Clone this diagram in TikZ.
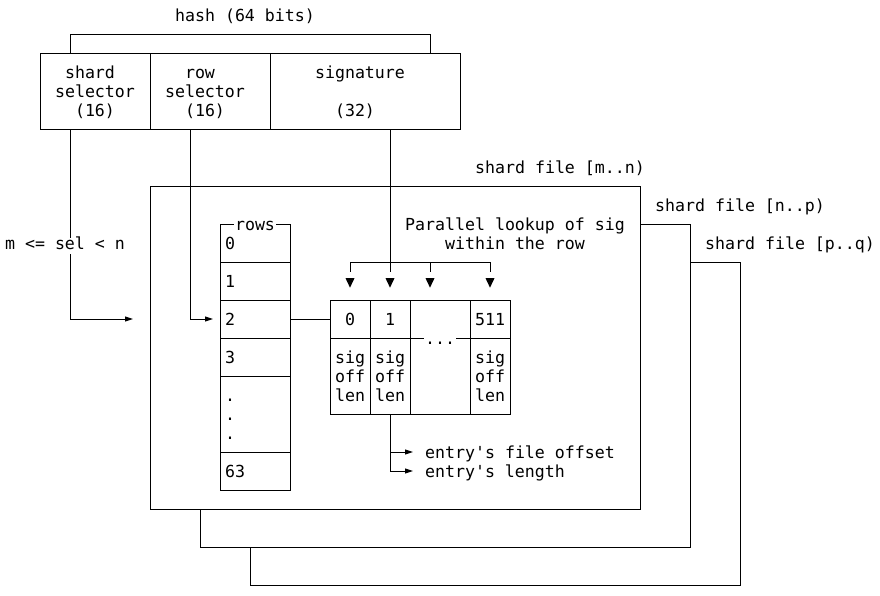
\documentclass[tikz,border=0pt]{standalone}
\usepackage{fontspec}
\newfontfamily\bobfont{DejaVu Sans Mono}
\usetikzlibrary{arrows.meta}

\tikzset{
  txt/.style={font=\bobfont\fontsize{16.6}{19}\selectfont, inner sep=0pt, anchor=base, yshift=-6.5pt},
  gap/.style={txt, fill=white, text height=12pt, text depth=4pt, inner xsep=1.5pt},
  wire/.style={line width=1pt},
  ptr/.style={wire, -{Triangle[length=8pt,width=5pt]}}
}

\begin{document}
\begin{tikzpicture}[x=10pt,y=-19pt]
\useasboundingbox (0,-0.7895) rectangle (88,30.5263);

%the 64 bit hash and its fields
\node[txt] (hash) at (24.5,0) {hash (64 bits)};
\draw[wire] (7,2) -- (7,1) -- (43,1) -- (43,2);
\draw[wire] (4,2) rectangle (46,6);
\draw[wire] (15,2) -- (15,6);
\draw[wire] (27,2) -- (27,6);

\node[txt] (shardA) at (9,3) {shard};
\node[txt] (shardB) at (9.5,4) {selector};
\node[txt] (shardC) at (9.5,5) {(16)};
\node[txt] (rowA) at (20,3) {row};
\node[txt] (rowB) at (20.5,4) {selector};
\node[txt] (rowC) at (20.5,5) {(16)};
\node[txt] (sigA) at (36,3) {signature};
\node[txt] (sigC) at (35.5,5) {(32)};

%the three shard files, stacked
\draw[wire] (15,9) rectangle (64,26);
\draw[wire] (64,11) -- (69,11) -- (69,28) -- (20,28) -- (20,26);
\draw[wire] (69,13) -- (74,13) -- (74,30) -- (25,30) -- (25,28);
\node[txt] (fileA) at (56,8) {shard file [m..n)};
\node[txt] (fileB) at (74,10) {shard file [n..p)};
\node[txt] (fileC) at (79,12) {shard file [p..q)};

%rows column
\draw[wire] (22,11) rectangle (29,25);
\foreach \r in {13,15,17,19,23}
  \draw[wire] (22,\r) -- (29,\r);
\node[gap] (rows) at (25.5,11) {rows};
\node[txt] (row0) at (23,12) {0};
\node[txt] (row1) at (23,14) {1};
\node[txt] (row2) at (23,16) {2};
\node[txt] (row3) at (23,18) {3};
\foreach \r in {20,21,22}
  \node[txt] (dot\r) at (23,\r) {.};
\node[txt] (row63) at (23.5,24) {63};

%slots of one row
\coordinate (rowout) at (29,16);
\coordinate (slotin) at (33,16);
\draw[wire] (rowout) -- (slotin);
\draw[wire] (33,15) rectangle (51,21);
\foreach \c in {37,41,47}
  \draw[wire] (\c,15) -- (\c,21);
\draw[wire] (33,17) -- (51,17);
\node[gap] (more) at (44,17) {...};
\node[txt] (slot0) at (35,16) {0};
\node[txt] (slot1) at (39,16) {1};
\node[txt] (slot511) at (49,16) {511};
\foreach \c/\n in {35/a,39/b,49/c} {
  \node[txt] (sig\n) at (\c,18) {sig};
  \node[txt] (off\n) at (\c,19) {off};
  \node[txt] (len\n) at (\c,20) {len};
}

\node[txt] (lookA) at (51.5,11) {Parallel lookup of sig};
\node[txt] (lookB) at (51.5,12) {within the row};

%selectors going down
\coordinate (shardsel) at (7,6);
\coordinate (shardhit) at (13.3,16);
\coordinate (rowsel) at (19,6);
\coordinate (rowhit) at (21.3,16);
\draw[ptr] (shardsel) |- (shardhit);
\draw[ptr] (rowsel) |- (rowhit);
\node[gap] (range) at (6.5,12) {m <= sel < n};

\coordinate (sigsel) at (39,6);
\draw[wire] (sigsel) -- (39,13.5);
\draw[wire] (35,13.5) -- (35,13) -- (49,13) -- (49,13.5);
\draw[wire] (43,13) -- (43,13.5);
\foreach \c in {35,39,43,49}
  \fill (\c-0.45,13.85) -- (\c+0.45,13.85) -- (\c,14.35) -- cycle;

%what a slot gives back
\coordinate (slotout) at (39,21);
\coordinate (offhit) at (41.3,23);
\coordinate (lenhit) at (41.3,24);
\draw[ptr] (slotout) |- (lenhit);
\draw[ptr] (39,23) -- (offhit);
\node[txt] (entoff) at (52,23) {entry's file offset};
\node[txt] (entlen) at (49.5,24) {entry's length};

\end{tikzpicture}
\end{document}
